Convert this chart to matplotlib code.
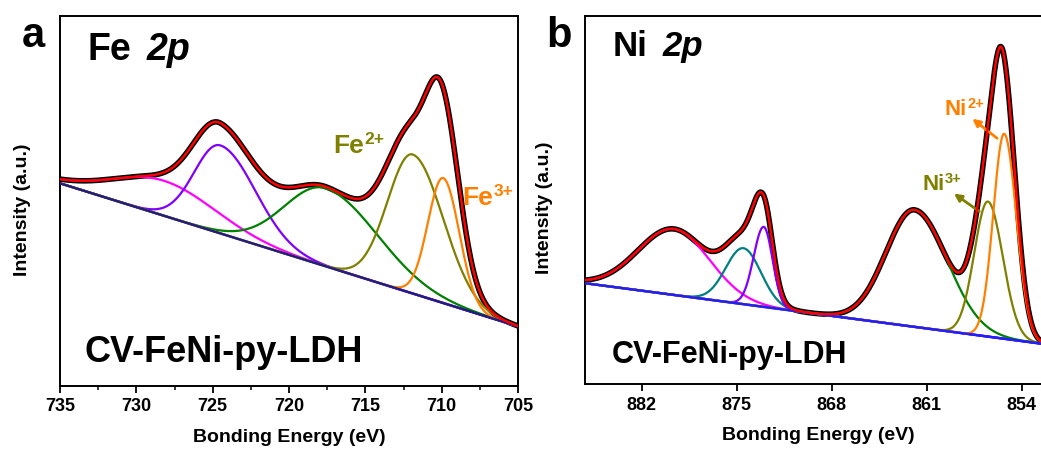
import matplotlib
matplotlib.use("Agg")
import matplotlib.pyplot as plt
import numpy as np

plt.rcParams['font.family'] = ['Liberation Sans', 'DejaVu Sans']
plt.rcParams['font.weight'] = 'bold'

# ---- Fe 2p (panel a) ----
fe_range = (735, 705)
fe_bg_start = 203.7        # linear background at 735 eV
fe_bg_slope = 4.77         # drop per eV toward lower binding energy
fe_names = ['sat2', 'Fe 2p1/2', 'sat1', 'Fe2+', 'Fe3+']
fe_center = [728.2, 724.5, 717.6, 711.9, 709.9]
fe_height = [35, 88, 78, 139, 125]
fe_sig_hi = [3.3, 1.7, 2.7, 1.65, 1.0]
fe_sig_lo = [3.4, 2.3, 3.4, 2.0, 1.05]
fe_colors = ['#ff00ff', '#8000ff', '#008000', '#808000', '#ff8000']

# ---- Ni 2p (panel b) ----
ni_range = (886.1, 852.0)
ni_bg_start = 99.7
ni_bg_slope = 1.8
ni_names = ['sat2', 'Ni 2p1/2 a', 'Ni 2p1/2 b', 'sat1', 'Ni3+', 'Ni2+']
ni_center = [879.6, 874.5, 873.0, 861.9, 856.5, 855.3]
ni_height = [66, 56, 80, 117, 135, 205]
ni_sig_hi = [2.65, 1.3, 0.75, 2.1, 1.0, 0.8]
ni_sig_lo = [2.6, 1.3, 0.65, 2.4, 1.1, 0.9]
ni_colors = ['#ff00ff', '#008080', '#8000ff', '#008000', '#808000', '#ff8000']

# arrows for Ni labels: (tail E, tail I, head E, head I)
ni2_arrow = (855.66, 243, 857.8, 266)
ni3_arrow = (856.96, 170, 859.16, 191)

W, H = 1041, 450


def peak(e, c, h, s_hi, s_lo):
    s = np.where(e > c, s_hi, s_lo)
    return h * np.exp(-(e - c) ** 2 / (2 * s ** 2))


def fxy(px, py):
    return px / W, 1 - py / H


def draw_panel(ax, erange, bg0, slope, centers, heights, shi, slo, colors, bgcolor):
    e = np.linspace(erange[0], erange[1], 800)
    bg = bg0 - (erange[0] - e) * slope
    comps = [peak(e, c, h, a, b) for c, h, a, b in zip(centers, heights, shi, slo)]
    env = bg + np.sum(comps, axis=0)
    ax.plot(e, env, color='black', lw=4.0, zorder=1)
    ax.plot(e, bg, color=bgcolor, lw=1.8, zorder=3)
    for comp, col in zip(comps, colors):
        ax.plot(e, bg + comp, color=col, lw=1.6, zorder=2)
    ax.plot(e, env, color='#ff0000', lw=1.8, zorder=4)
    ax.set_yticks([])
    for sp in ax.spines.values():
        sp.set_linewidth(1.4)
    ax.tick_params(axis='x', direction='out', length=5, width=1.3, labelsize=13, pad=4)
    ax.tick_params(axis='x', which='minor', direction='out', length=3, width=1.1)
    ax.set_xlabel('Bonding Energy (eV)', fontsize=14, fontweight='bold', labelpad=10)
    ax.set_ylabel('Intensity (a.u.)', fontsize=14, fontweight='bold')


def ion_label(px, py, base, sup, size, color):
    t = fig.text(*fxy(px, py), base, fontsize=size, color=color, fontweight='bold', va='baseline')
    s = fig.add_artist(matplotlib.text.Annotation(
        sup, xy=(1, 0), xycoords=t, xytext=(0.5, size * 0.40),
        textcoords='offset points', fontsize=size * 0.66, color=color,
        fontweight='bold', va='bottom', ha='left'))
    s.set_clip_on(False)


fig = plt.figure(figsize=(W / 100, H / 100), dpi=100)
ax_a = fig.add_axes([60 / W, 1 - 385.5 / H, 458 / W, 369.5 / H])
ax_b = fig.add_axes([585 / W, 1 - 384 / H, 466 / W, 368 / H])

draw_panel(ax_a, fe_range, fe_bg_start, fe_bg_slope, fe_center, fe_height,
           fe_sig_hi, fe_sig_lo, fe_colors, '#1f1f80')
ax_a.set_xlim(735, 705)
ax_a.set_ylim(1.5, 371)
ax_a.set_xticks([735, 730, 725, 720, 715, 710, 705])
ax_a.set_xticks(np.arange(732.5, 705, -5), minor=True)
ax_a.yaxis.set_label_coords(-0.063, 0.475)

draw_panel(ax_b, ni_range, ni_bg_start, ni_bg_slope, ni_center, ni_height,
           ni_sig_hi, ni_sig_lo, ni_colors, '#1f1fff')
ax_b.set_xlim(886.16, 851.85)
ax_b.set_ylim(-1, 367)
ax_b.set_xticks([882, 875, 868, 861, 854])
ax_b.yaxis.set_label_coords(-0.069, 0.478)

for (a, b_, c, d), col in [(ni2_arrow, '#ff8000'), (ni3_arrow, '#808000')]:
    ax_b.annotate('', xy=(c, d), xytext=(a, b_),
                  arrowprops=dict(arrowstyle='-|>', color=col, lw=2, mutation_scale=11))

# panel letters and titles
fig.text(*fxy(22, 47), 'a', fontsize=30, fontweight='bold', va='baseline')
fig.text(*fxy(546, 47), 'b', fontsize=30, fontweight='bold', va='baseline')
fig.text(*fxy(88, 60), 'Fe', fontsize=27, fontweight='bold', va='baseline')
fig.text(*fxy(147, 60), '2p', fontsize=27, fontweight='bold', fontstyle='italic', va='baseline')
fig.text(*fxy(613, 56), 'Ni', fontsize=25, fontweight='bold', va='baseline')
fig.text(*fxy(663, 56), '2p', fontsize=25, fontweight='bold', fontstyle='italic', va='baseline')
fig.text(*fxy(85, 362), 'CV-FeNi-py-LDH', fontsize=26, fontweight='bold', va='baseline')
fig.text(*fxy(612, 363), 'CV-FeNi-py-LDH', fontsize=22, fontweight='bold', va='baseline')

# species labels
ion_label(333, 153, 'Fe', '2+', 19, '#808000')
ion_label(462, 205, 'Fe', '3+', 19, '#ff8000')
ion_label(945, 115, 'Ni', '2+', 16, '#ff8000')
ion_label(922, 190, 'Ni', '3+', 16, '#808000')

fig.savefig('out.png', dpi=100)
